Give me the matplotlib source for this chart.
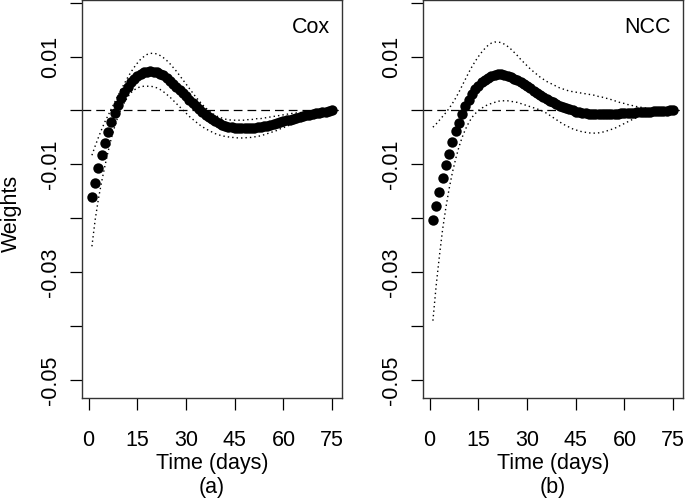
import numpy as np
import matplotlib
matplotlib.use("Agg")
import matplotlib.pyplot as plt

plt.rcParams['font.family'] = ['Liberation Sans', 'DejaVu Sans']

# days 1..75
days = list(range(1, 76))

# Cox model weights (x 1e-3)
cox_mean = [-16.1, -13.5, -10.7, -8.2, -6.0, -3.9, -2.1, -0.4, 1.0, 2.3,
            3.4, 4.4, 5.2, 5.9, 6.4, 6.8, 7.1, 7.2, 7.3, 7.2,
            7.1, 6.8, 6.5, 6.0, 5.5, 5.0, 4.4, 3.8, 3.2, 2.6,
            2.0, 1.4, 0.8, 0.2, -0.3, -0.8, -1.2, -1.6, -2.0, -2.3,
            -2.6, -2.8, -3.0, -3.1, -3.2, -3.25, -3.3, -3.3, -3.3, -3.25,
            -3.2, -3.1, -3.0, -2.9, -2.8, -2.65, -2.5, -2.35, -2.2, -2.0,
            -1.85, -1.7, -1.5, -1.35, -1.2, -1.05, -0.9, -0.75, -0.6, -0.5,
            -0.4, -0.3, -0.2, -0.1, 0.0]
cox_upper = [-8.3, -6.6, -5.0, -3.5, -2.1, -0.9, 0.3, 1.5, 2.7, 3.9,
             5.0, 6.1, 7.1, 8.0, 8.8, 9.5, 10.0, 10.4, 10.6, 10.6,
             10.5, 10.2, 9.8, 9.3, 8.7, 8.0, 7.3, 6.5, 5.7, 4.9,
             4.1, 3.3, 2.5, 1.8, 1.1, 0.5, 0.0, -0.5, -0.9, -1.2,
             -1.4, -1.6, -1.7, -1.8, -1.8, -1.8, -1.8, -1.8, -1.7, -1.7,
             -1.6, -1.5, -1.5, -1.4, -1.3, -1.2, -1.1, -1.0, -0.9, -0.8,
             -0.7, -0.6, -0.5, -0.45, -0.4, -0.35, -0.3, -0.25, -0.2, -0.15,
             -0.1, -0.07, -0.04, -0.02, 0.0]
cox_lower = [-25.2, -20.3, -16.4, -13.2, -10.3, -7.6, -5.1, -3.0, -1.2, 0.3,
             1.5, 2.5, 3.3, 3.8, 4.2, 4.4, 4.5, 4.5, 4.5, 4.4,
             4.2, 3.9, 3.5, 3.0, 2.5, 1.9, 1.3, 0.7, 0.1, -0.5,
             -1.1, -1.6, -2.1, -2.6, -3.0, -3.4, -3.7, -4.0, -4.3, -4.5,
             -4.7, -4.8, -4.9, -5.0, -5.0, -5.1, -5.1, -5.1, -5.0, -5.0,
             -4.9, -4.8, -4.7, -4.5, -4.3, -4.1, -3.9, -3.7, -3.4, -3.2,
             -2.9, -2.7, -2.4, -2.2, -1.9, -1.7, -1.4, -1.2, -1.0, -0.8,
             -0.6, -0.4, -0.25, -0.1, 0.0]

# NCC weights (x 1e-3)
ncc_mean = [-20.4, -17.8, -15.2, -12.5, -10.1, -8.0, -5.8, -3.8, -2.3, -0.6,
            0.8, 2.0, 3.0, 3.9, 4.6, 5.2, 5.7, 6.1, 6.4, 6.6,
            6.7, 6.7, 6.6, 6.4, 6.2, 5.9, 5.6, 5.2, 4.9, 4.5,
            4.1, 3.7, 3.3, 2.9, 2.5, 2.1, 1.8, 1.5, 1.2, 0.9,
            0.6, 0.4, 0.2, 0.0, -0.2, -0.3, -0.4, -0.5, -0.6, -0.65,
            -0.7, -0.7, -0.7, -0.7, -0.7, -0.65, -0.6, -0.6, -0.55, -0.5,
            -0.45, -0.4, -0.4, -0.35, -0.3, -0.25, -0.2, -0.2, -0.15, -0.1,
            -0.1, -0.05, -0.05, 0.0, 0.0]
ncc_upper = [-3.1, -2.5, -1.8, -1.1, -0.4, 0.4, 1.3, 2.3, 3.4, 4.6,
             5.8, 7.0, 8.1, 9.1, 10.0, 10.8, 11.5, 12.1, 12.5, 12.7,
             12.7, 12.6, 12.3, 11.9, 11.4, 10.8, 10.2, 9.5, 8.9, 8.3,
             7.7, 7.2, 6.7, 6.2, 5.8, 5.4, 5.1, 4.8, 4.5, 4.2,
             4.0, 3.8, 3.6, 3.5, 3.4, 3.3, 3.2, 3.1, 3.0, 2.9,
             2.8, 2.6, 2.5, 2.3, 2.2, 2.0, 1.8, 1.6, 1.4, 1.3,
             1.1, 1.0, 0.8, 0.7, 0.6, 0.5, 0.4, 0.3, 0.2, 0.15,
             0.1, 0.05, 0.02, 0.01, 0.0]
ncc_lower = [-39.0, -32.5, -27.0, -22.0, -18.0, -14.5, -11.5, -9.0, -6.8, -5.0,
             -3.5, -2.3, -1.3, -0.6, 0.0, 0.4, 0.8, 1.1, 1.3, 1.5,
             1.7, 1.8, 1.8, 1.8, 1.7, 1.6, 1.5, 1.3, 1.1, 0.9,
             0.7, 0.5, 0.3, 0.1, -0.2, -0.5, -0.9, -1.3, -1.7, -2.1,
             -2.5, -2.8, -3.1, -3.4, -3.6, -3.8, -3.95, -4.05, -4.15, -4.2,
             -4.2, -4.15, -4.05, -3.9, -3.7, -3.5, -3.3, -3.0, -2.7, -2.4,
             -2.1, -1.8, -1.5, -1.3, -1.0, -0.8, -0.6, -0.45, -0.3, -0.2,
             -0.12, -0.06, -0.03, -0.01, 0.0]

panels = [("Cox", "(a)", cox_mean, cox_upper, cox_lower),
          ("NCC", "(b)", ncc_mean, ncc_upper, ncc_lower)]

xticks = [0, 15, 30, 45, 60, 75]
yticks = [-0.05, -0.04, -0.03, -0.02, -0.01, 0.0, 0.01, 0.02]
ylabels = ["-0.05", "", "-0.03", "", "-0.01", "", "0.01", ""]

FS = 15.5
W, H = 685, 499
fig = plt.figure(figsize=(W / 100, H / 100), dpi=100)

lefts = [82.3, 423.3]
for (name, sub, mean, up, lo), left in zip(panels, lefts):
    ax = fig.add_axes([left / W, 1 - 398.3 / H, 259.5 / W, 398.3 / H])
    x = np.array(days)
    ax.plot(x, np.array(up) / 1000, color='black', lw=1.0,
            linestyle=(0, (1, 2.2)))
    ax.plot(x, np.array(lo) / 1000, color='black', lw=1.0,
            linestyle=(0, (1, 2.2)))
    ax.axhline(0, color='black', lw=0.9, linestyle=(0, (7, 4)))
    ax.plot(x, np.array(mean) / 1000, 'o', color='black', ms=7.5,
            markeredgewidth=0)
    ax.set_xlim(-1.96, 77.96)
    ax.set_ylim(-0.0534, 0.0205)
    ax.set_xticks(xticks)
    ax.set_yticks(yticks)
    ax.set_yticklabels(ylabels, rotation=90, va='center')
    ax.tick_params(direction='out', length=8.6, width=0.9, labelsize=FS,
                   colors='black')
    ax.tick_params(axis='y', pad=7)
    ax.tick_params(axis='x', pad=14)
    for s in ax.spines.values():
        s.set_linewidth(1.0)
        s.set_color('#333333')
    ax.text(0.955, 0.93, name, transform=ax.transAxes, ha='right',
            va='center', fontsize=FS)
    ax.set_xlabel("Time (days)", fontsize=FS, labelpad=2)
    cx = (left + 259.5 / 2) / W
    fig.text(cx, 1 - 488 / H, sub, ha='center', va='center', fontsize=FS)

fig.text(11 / W, 1 - 213 / H, "Weights", rotation=90, ha='center',
         va='center', fontsize=FS)

fig.savefig("out.png", dpi=100)
